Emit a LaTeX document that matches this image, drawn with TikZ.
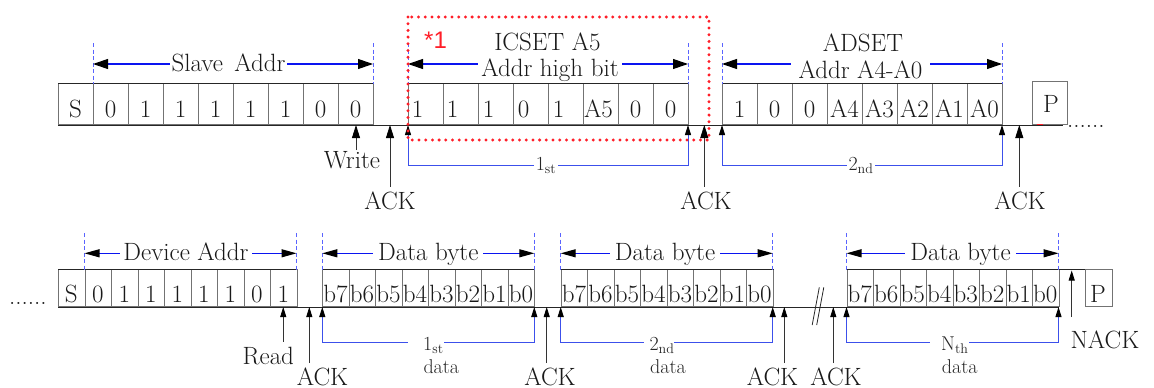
\documentclass[tikz,border=0pt]{standalone}
\usepackage{fontspec}
\newfontfamily\redfont{Liberation Sans}
\usetikzlibrary{arrows.meta}
\definecolor{dimblue}{RGB}{10,20,240}
\definecolor{brkblue}{RGB}{60,80,235}
\definecolor{dashblue}{RGB}{90,100,255}
\definecolor{dotred}{RGB}{255,30,40}
\begin{document}
\begin{tikzpicture}[x=1pt,y=-1pt,
  every node/.style={inner sep=0pt},
  big/.style={font=\fontsize{25}{28}\selectfont, text=black!90},
  small/.style={font=\fontsize{20}{22}\selectfont, text=black!85},
  cellT/.style={draw=black!55, line width=0.8pt, minimum width=35pt, minimum height=41pt, anchor=south west},
  cellB/.style={draw=black!55, line width=0.8pt, minimum width=26.5pt, minimum height=37pt, anchor=south west},
  ctxt/.style={big, anchor=base},
  edgeline/.style={black!85, line width=0.9pt},
  vdash/.style={dashblue, line width=0.8pt, dash pattern=on 4pt off 2.5pt},
  dimT/.style={dimblue, line width=1.1pt, {Triangle[length=15pt,width=10pt,color=black]}-{Triangle[length=15pt,width=10pt,color=black]}},
  dimB/.style={dimblue, line width=1.1pt, {Triangle[length=15pt,width=8pt,color=black]}-{Triangle[length=15pt,width=8pt,color=black]}},
  upT/.style={black!80, line width=0.8pt, -{Triangle[length=13pt,width=8pt,color=black]}},
  upB/.style={black!80, line width=0.8pt, -{Triangle[length=10pt,width=6pt,color=black]}},
  brk/.style={brkblue, line width=1pt, {Triangle[length=10pt,width=6pt,color=black]}-{Triangle[length=10pt,width=6pt,color=black]}},
  wlbl/.style={fill=white},
  reddot/.style={dotred, line width=3.3pt, line cap=round, dash pattern=on 0pt off 6.7pt}
]
\useasboundingbox (0,0) rectangle (1154,388);

% ================= TOP ROW =================
\foreach \t [count=\i from 0] in {S,0,1,1,1,1,1,0,0}{
  \node[cellT] (sa\i) at ({58+35*\i},125) {};
  \node[ctxt] (sat\i) at ({75.5+35*\i},117.5) {\t};
}
\foreach \t/\o [count=\i from 0] in {1/-8,1/-8,1/-7,0/-7,1/-7,A5/-2,0/0,0/0}{
  \node[cellT] (ic\i) at ({408+35*\i},125) {};
  \node[ctxt] (ict\i) at ({425.5+35*\i+\o},117.5) {\t};
}
\foreach \t [count=\i from 0] in {1,0,0,A4,A3,A2,A1,A0}{
  \node[cellT] (ad\i) at ({722+35*\i},125) {};
  \node[ctxt] (adt\i) at ({739.5+35*\i},117.5) {\t};
}
\node[cellT, minimum height=43pt] (pT) at (1032,125) {};
\node[ctxt] (pTt) at (1051,112) {P};

\draw[edgeline] (sa0.north west) -- (sa8.north east);
\draw[edgeline] (ic0.north west) -- (ic7.north east);
\draw[edgeline] (ad0.north west) -- (ad7.north east);
\coordinate (tb0) at (58,125);
\coordinate (tb1) at (1063,125);
\draw[edgeline] (tb0) -- (tb1);
\coordinate (rm0) at (1036.5,124.5);
\coordinate (rm1) at (1042.5,124.5);
\draw[dotred, line width=1.2pt] (rm0) -- (rm1);
\node[big, anchor=base west] (dotsT) at (1067,127) {......};

% dashed verticals top
\foreach \x [count=\k] in {93,373,408,688,722,1002}{
  \coordinate (tva\k) at (\x,43);
  \coordinate (tvb\k) at (\x,84);
  \draw[vdash] (tva\k) -- (tvb\k);
}

% dimension arrows top
\coordinate (d1a) at (93,64);  \coordinate (d1b) at (373,64);
\coordinate (d2a) at (408,64); \coordinate (d2b) at (688,64);
\coordinate (d3a) at (722,64); \coordinate (d3b) at (1002,64);
\draw[dimT] (d1a) -- (d1b);
\draw[dimT] (d2a) -- (d2b);
\draw[dimT] (d3a) -- (d3b);
\node[big, wlbl, anchor=base, inner xsep=2pt, inner ysep=1pt] (l1) at (228.5,71) {Slave\hspace{0.45em}Addr};
\node[big, anchor=base] (l2a) at (547.5,50) {ICSET A5};
\node[big, wlbl, anchor=base, inner xsep=3pt, inner ysep=1pt] (l2b) at (550,76) {Addr high bit};
\node[big, anchor=base] (l3a) at (863,51.7) {ADSET};
\node[big, wlbl, anchor=base, inner xsep=8pt, inner ysep=1pt] (l3b) at (860.5,78) {Addr A4-A0};

% up arrows top
\coordinate (wA) at (356,150);     \coordinate (wB) at (356,125);
\coordinate (a1A) at (390,186.7);  \coordinate (a1B) at (390,125);
\coordinate (a2A) at (704.3,186.7);\coordinate (a2B) at (704.3,125);
\coordinate (a3A) at (1019.3,186.7);\coordinate (a3B) at (1019.3,125);
\draw[upT] (wA) -- (wB);
\draw[upT] (a1A) -- (a1B);
\draw[upT] (a2A) -- (a2B);
\draw[upT] (a3A) -- (a3B);
\node[big, anchor=base] (wT) at (352,168.3) {Write};
\node[big, anchor=base] (a1T) at (390,209.3) {ACK};
\node[big, anchor=base] (a2T) at (706,209.3) {ACK};
\node[big, anchor=base] (a3T) at (1020,209.3) {ACK};

% brackets top
\coordinate (k1a) at (408,125); \coordinate (k1b) at (408,165);
\coordinate (k1c) at (688,165); \coordinate (k1d) at (688,125);
\coordinate (k2a) at (722,125); \coordinate (k2b) at (722,165);
\coordinate (k2c) at (1002,165);\coordinate (k2d) at (1002,125);
\draw[brk] (k1a) -- (k1b) -- (k1c) -- (k1d);
\draw[brk] (k2a) -- (k2b) -- (k2c) -- (k2d);
\node[small, wlbl, anchor=base, inner xsep=2pt] (k1t) at (546,170) {1\textsubscript{st}};
\node[small, wlbl, anchor=base, inner xsep=2pt] (k2t) at (861,170) {2\textsubscript{nd}};

% red dotted frame and mark
\coordinate (r0) at (408,17);
\coordinate (r1) at (709,140);
\draw[reddot] (r0) rectangle (r1);
\node[anchor=base west, font=\redfont\fontsize{24}{26}\selectfont, text=dotred] (star) at (424,48.3) {*1};

% ================= BOTTOM ROW =================
\node[big, anchor=base west] (dotsB) at (9,304) {......};
\foreach \t [count=\i from 0] in {S,0,1,1,1,1,1,0,1}{
  \node[cellB] (da\i) at ({58+26.5*\i},307) {};
  \node[ctxt] (dat\i) at ({71.25+26.5*\i},302) {\t};
}
\foreach \x [count=\j] in {322.3,560.7,846.5}{
  \foreach \t [count=\i from 0] in {b7,b6,b5,b4,b3,b2,b1,b0}{
    \node[cellB] (db\j\i) at ({\x+26.5*\i},307) {};
    \node[ctxt] (dbt\j\i) at ({\x+13.25+26.5*\i},302) {\t};
  }
}
\node[cellB] (pB) at (1085,307) {};
\node[ctxt] (pBt) at (1098,302) {P};

\draw[edgeline] (da0.north west) -- (da8.north east);
\draw[edgeline] (db10.north west) -- (db17.north east);
\draw[edgeline] (db20.north west) -- (db27.north east);
\draw[edgeline] (db30.north west) -- (pB.north west);
\coordinate (bb0) at (58,307);
\coordinate (bb1) at (1058.5,307);
\draw[edgeline] (bb0) -- (bb1);
% break marks
\coordinate (s1a) at (812.2,325); \coordinate (s1b) at (819.3,287.3);
\coordinate (s2a) at (816.7,325); \coordinate (s2b) at (823.8,287.3);
\draw[edgeline, line width=0.8pt] (s1a) -- (s1b);
\draw[edgeline, line width=0.8pt] (s2a) -- (s2b);

% dashed verticals bottom
\foreach \x [count=\k] in {84.5,296.5,322.3,534.3,560.7,772.7,846.5,1058.5}{
  \coordinate (bva\k) at (\x,233);
  \coordinate (bvb\k) at (\x,270);
  \draw[vdash] (bva\k) -- (bvb\k);
}

% dimension arrows bottom
\coordinate (e1a) at (84.5,253.3);  \coordinate (e1b) at (296.5,253.3);
\coordinate (e2a) at (322.3,253.3); \coordinate (e2b) at (534.3,253.3);
\coordinate (e3a) at (560.7,253.3); \coordinate (e3b) at (772.7,253.3);
\coordinate (e4a) at (846.5,253.3); \coordinate (e4b) at (1058.5,253.3);
\draw[dimB] (e1a) -- (e1b);
\draw[dimB] (e2a) -- (e2b);
\draw[dimB] (e3a) -- (e3b);
\draw[dimB] (e4a) -- (e4b);
\node[big, wlbl, anchor=base, inner xsep=3pt, inner ysep=1pt] (e1t) at (186,260) {Device Addr};
\node[big, wlbl, anchor=base, inner xsep=5pt, inner ysep=1pt] (e2t) at (428.3,260) {Data byte};
\node[big, wlbl, anchor=base, inner xsep=5pt, inner ysep=1pt] (e3t) at (665,260) {Data byte};
\node[big, wlbl, anchor=base, inner xsep=5pt, inner ysep=1pt] (e4t) at (960.5,260) {Data byte};

% up arrows bottom
\coordinate (rdA) at (283.25,341.7); \coordinate (rdB) at (283.25,307);
\coordinate (b1A) at (309.3,363);    \coordinate (b1B) at (309.3,307);
\coordinate (b2A) at (546.7,363);    \coordinate (b2B) at (546.7,307);
\coordinate (b3A) at (784.3,363);    \coordinate (b3B) at (784.3,307);
\coordinate (b4A) at (833.3,363);    \coordinate (b4B) at (833.3,307);
\coordinate (nA) at (1071.7,317);    \coordinate (nB) at (1071.7,270.5);
\draw[upB] (rdA) -- (rdB);
\draw[upB] (b1A) -- (b1B);
\draw[upB] (b2A) -- (b2B);
\draw[upB] (b3A) -- (b3B);
\draw[upB] (b4A) -- (b4B);
\draw[upB] (nA) -- (nB);
\node[big, anchor=base] (rdT) at (268.3,364) {Read};
\node[big, anchor=base] (b1T) at (322.5,385) {ACK};
\node[big, anchor=base] (b2T) at (550,385) {ACK};
\node[big, anchor=base] (b3T) at (772.5,385) {ACK};
\node[big, anchor=base] (b4T) at (836,385) {ACK};
\node[big, anchor=base] (nT) at (1105,348.3) {NACK};

% brackets bottom
\coordinate (m1a) at (322.3,307); \coordinate (m1b) at (322.3,342.7);
\coordinate (m1c) at (534.3,342.7); \coordinate (m1d) at (534.3,307);
\coordinate (m2a) at (560.7,307); \coordinate (m2b) at (560.7,342.7);
\coordinate (m2c) at (772.7,342.7); \coordinate (m2d) at (772.7,307);
\coordinate (m3a) at (846.5,307); \coordinate (m3b) at (846.5,342.7);
\coordinate (m3c) at (1058.5,342.7); \coordinate (m3d) at (1058.5,307);
\draw[brk] (m1a) -- (m1b) -- (m1c) -- (m1d);
\draw[brk] (m2a) -- (m2b) -- (m2c) -- (m2d);
\draw[brk] (m3a) -- (m3b) -- (m3c) -- (m3d);
\node[small, wlbl, anchor=base west] (m1t) at (408,350) {\hspace{15pt}1\textsubscript{st}\hspace{5pt}};
\node[small, wlbl, anchor=base west] (m2t) at (643.3,350) {\hspace{6pt}2\textsubscript{nd}\hspace{10pt}};
\node[small, wlbl, anchor=base west] (m3t) at (930,350) {\hspace{11pt}N\textsubscript{th}\hspace{3pt}};
\node[small, anchor=base west] (m1d2) at (423.3,373.3) {data};
\node[small, anchor=base west] (m2d2) at (650,373.3) {data};
\node[small, anchor=base west] (m3d2) at (941.7,373.3) {data};
\end{tikzpicture}
\end{document}
